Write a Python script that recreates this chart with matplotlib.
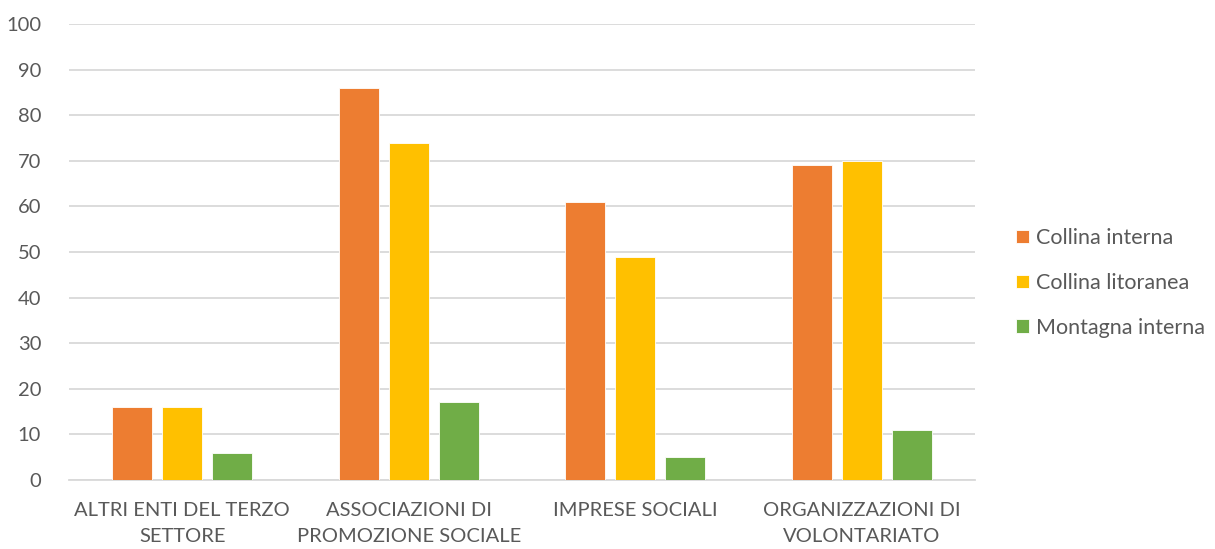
import numpy as np
import matplotlib.pyplot as plt

plt.rcParams['font.family'] = ['Lato', 'DejaVu Sans']

# Categorie e valori per zona altimetrica
categorie = ["ALTRI ENTI DEL TERZO\nSETTORE",
             "ASSOCIAZIONI DI\nPROMOZIONE SOCIALE",
             "IMPRESE SOCIALI",
             "ORGANIZZAZIONI DI\nVOLONTARIATO"]
collina_interna = [16, 86, 61, 69]
collina_litoranea = [16, 74, 49, 70]
montagna_interna = [6, 17, 5, 11]

serie = [("Collina interna", collina_interna, "#ED7D31"),
         ("Collina litoranea", collina_litoranea, "#FFC000"),
         ("Montagna interna", montagna_interna, "#70AD47")]

fig = plt.figure(figsize=(12.15, 5.49), dpi=100)
ax = fig.add_axes([0.0568, 0.1257, 0.7457, 0.8306])

x = np.arange(len(categorie))
larghezza = 0.176
passo = 0.2205
for i, (nome, valori, colore) in enumerate(serie):
    ax.bar(x + (i - 1) * passo, valori, larghezza, color=colore,
           edgecolor="white", linewidth=0.6, label=nome, zorder=3)

ax.set_xlim(-0.5, len(categorie) - 0.5)
ax.set_ylim(0, 100)
ax.set_yticks(range(0, 101, 10))
ax.yaxis.grid(True, color="#D9D9D9", linewidth=1.3, zorder=0)
ax.set_xticks(x)
ax.set_xticklabels(categorie, fontsize=14.5, color="#595959", linespacing=1.6)
ax.tick_params(axis="y", labelsize=14.5, labelcolor="#595959", length=0, pad=20)
ax.tick_params(axis="x", length=0, pad=16)
for lato in ["top", "right", "left"]:
    ax.spines[lato].set_visible(False)
ax.spines["bottom"].set_color("#D9D9D9")
ax.spines["bottom"].set_linewidth(1.3)

leg = fig.legend(loc="center left", bbox_to_anchor=(0.82, 0.4845), frameon=False,
                 fontsize=15.5, handlelength=0.6, handleheight=0.6,
                 handletextpad=0.35, labelspacing=1.15)
for t in leg.get_texts():
    t.set_color("#595959")

fig.savefig("out.png", dpi=100)
